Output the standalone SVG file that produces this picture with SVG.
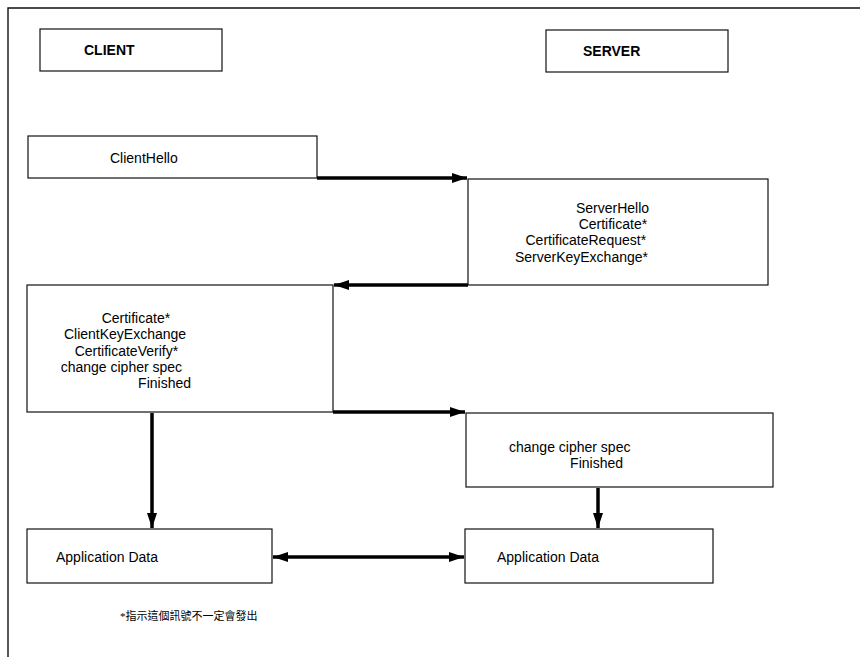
<svg xmlns="http://www.w3.org/2000/svg" width="860" height="657" viewBox="0 0 860 657">
  <style>
    .box { fill: #ffffff; stroke: #111111; stroke-width: 1.2; }
    .frame { fill: none; stroke: #111111; stroke-width: 1.4; }
    .lbl { font-family: "Liberation Sans", Arial, sans-serif; font-size: 14px; fill: #000000; }
    .hdr { font-family: "Liberation Sans", Arial, sans-serif; font-size: 14px; font-weight: bold; fill: #000000; }
    .note { font-family: "Liberation Serif", "Noto Sans CJK TC", serif; font-size: 11px; fill: #000000; }
    .flow { fill: none; stroke: #000000; stroke-width: 3.5; }
  </style>
  <defs>
    <marker id="head" markerUnits="userSpaceOnUse" markerWidth="16" markerHeight="12" refX="15" refY="6" orient="auto-start-reverse">
      <path d="M0,1 L15,6 L0,11 Z" fill="#000000"/>
    </marker>
  </defs>

  <rect width="860" height="657" fill="#ffffff"/>
  <!-- page frame -->
  <path class="frame" d="M8,657 V8 H860"/>

  <g id="client-header">
    <rect class="box" x="40" y="29" width="182" height="42"/>
    <text class="hdr" x="84" y="55">CLIENT</text>
  </g>
  <g id="server-header">
    <rect class="box" x="546" y="30" width="182" height="42"/>
    <text class="hdr" x="583" y="56">SERVER</text>
  </g>

  <g id="client-hello">
    <rect class="box" x="28" y="136" width="289" height="42"/>
    <text class="lbl" x="110" y="163">ClientHello</text>
  </g>

  <g id="server-hello">
    <rect class="box" x="468" y="179" width="300" height="106"/>
    <text class="lbl" text-anchor="end">
      <tspan x="653" y="213">ServerHello</tspan>
      <tspan x="651" y="229">Certificate*</tspan>
      <tspan x="650" y="245">CertificateRequest*</tspan>
      <tspan x="648" y="262">ServerKeyExchange*</tspan>
    </text>
  </g>

  <g id="client-key-exchange">
    <rect class="box" x="27" y="285" width="306" height="127"/>
    <text class="lbl" text-anchor="end">
      <tspan x="174" y="323">Certificate*</tspan>
      <tspan x="190" y="339">ClientKeyExchange</tspan>
      <tspan x="182" y="356">CertificateVerify*</tspan>
      <tspan x="186" y="372">change cipher spec</tspan>
      <tspan x="191" y="388">Finished</tspan>
    </text>
  </g>

  <g id="server-finished">
    <rect class="box" x="466" y="413" width="307" height="74"/>
    <text class="lbl" x="509" y="452">change cipher spec</text>
    <text class="lbl" x="623" y="468" text-anchor="end">Finished</text>
  </g>

  <g id="client-app-data">
    <rect class="box" x="27" y="529" width="245" height="54"/>
    <text class="lbl" x="56" y="562">Application Data</text>
  </g>
  <g id="server-app-data">
    <rect class="box" x="465" y="529" width="248" height="54"/>
    <text class="lbl" x="497" y="562">Application Data</text>
  </g>

  <g id="connectors">
    <line class="flow" x1="317" y1="178" x2="467" y2="178" marker-end="url(#head)"/>
    <line class="flow" x1="468" y1="285" x2="334" y2="285" marker-end="url(#head)"/>
    <line class="flow" x1="333" y1="412" x2="465" y2="412" marker-end="url(#head)"/>
    <line class="flow" x1="152" y1="413" x2="152" y2="528" marker-end="url(#head)"/>
    <line class="flow" x1="598" y1="488" x2="598" y2="528" marker-end="url(#head)"/>
    <line class="flow" x1="273" y1="557" x2="464" y2="557" marker-start="url(#head)" marker-end="url(#head)"/>
  </g>

  <g id="footnote">
    <text class="note" x="120" y="620">*指示這個訊號不一定會發出</text>
  </g>
</svg>
